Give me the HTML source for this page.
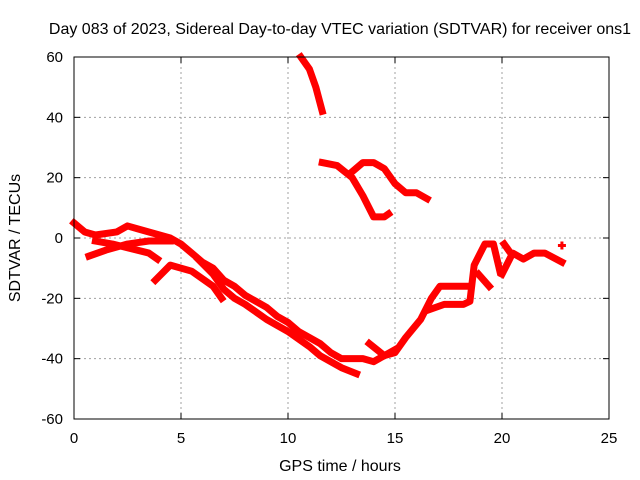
<!DOCTYPE html>
<html><head><meta charset="utf-8"><style>
body{margin:0;background:#fff}
svg{display:block;font-family:"Liberation Sans",sans-serif}
</style></head><body>
<svg id="chart" width="640" height="480">
<text x="340" y="34" font-size="16" text-anchor="middle">Day 083 of 2023, Sidereal Day-to-day VTEC variation (SDTVAR) for receiver ons1</text>
<text x="340" y="471" font-size="16" text-anchor="middle">GPS time / hours</text>
<text transform="translate(20,238) rotate(-90)" font-size="16" text-anchor="middle">SDTVAR / TECUs</text>
<g id="grid"></g><g id="series"></g><g id="axes"></g>
</svg>
<script>
const xTicks=[0,5,10,15,20,25];
const yTicks=[-60,-40,-20,0,20,40,60];
const traceA=[[0,5],[0.5,2],[1,1],[2,2],[2.5,4],[3,3],[3.5,2],[4,1],[4.5,0],[5,-2],[5.5,-5],[6,-8],[6.5,-10],[7,-14],[7.5,-16],[8,-19],[8.5,-21],[9,-23],[9.5,-26],[10,-28],[10.5,-31],[11,-33],[11.5,-35],[12,-38],[12.5,-40],[13,-40],[13.5,-40],[14,-41],[14.5,-39],[15,-37]];
const traceB=[[0.7,-6],[1.5,-4],[2.5,-2],[3.5,-1],[4.5,-1]];
const traceB2=[[1,-1],[1.8,-2],[3.5,-5],[3.9,-7]];
const traceC=[[3.8,-14],[4.5,-9],[5.5,-11],[6.5,-16],[6.9,-20]];
const traceD=[[5.8,-7],[6.5,-12],[7,-17],[7.5,-20],[8,-22],[9,-27],[10,-31],[11,-36],[11.5,-39],[12.5,-43],[13.2,-45]];
const traceE=[[13.8,-35],[14.5,-39],[15,-38],[15.5,-33],[16.2,-27],[16.7,-20],[17.1,-16],[18,-16],[18.5,-16]];
const traceE2=[[16.5,-24],[17.3,-22],[18.2,-22],[18.5,-21],[18.7,-9],[19.2,-2],[19.6,-2],[19.9,-11]];
const traceE3=[[18.9,-12],[19.4,-16]];
const traceF=[[20,-12],[20.5,-5],[21,-7],[21.5,-5],[22,-5],[22.8,-8]];
const traceF2=[[20.1,-2],[20.3,-4]];
const traceG=[[10.6,60],[11,56],[11.3,50],[11.6,42]];
const traceH=[[11.6,25],[12.3,24],[13,20],[13.5,14],[14,7],[14.5,7],[14.7,8]];
const traceI=[[13,22],[13.5,25],[14,25],[14.5,23],[15,18],[15.5,15],[16,15],[16.5,13]];
const singlePoints=[[22.8,-2.5]];
const traces=[traceA,traceB,traceB2,traceC,traceD,traceE,traceE2,traceE3,traceF,traceF2,traceG,traceH,traceI];
const X0=74,X1=609,Y0=419,Y1=57;
const sx=v=>X0+(v-0)/(25-0)*(X1-X0);
const sy=v=>Y0-(v+60)/120*(Y0-Y1);
const NS="http://www.w3.org/2000/svg";
function mk(t,a,p){const e=document.createElementNS(NS,t);for(const k in a)e.setAttribute(k,a[k]);p.appendChild(e);return e;}
const grid=document.getElementById('grid'),axes=document.getElementById('axes'),ser=document.getElementById('series');
xTicks.forEach(t=>{const x=sx(t);
 if(t>0&&t<25){const g=mk('line',{x1:x,x2:x,y1:Y1,y2:Y0,stroke:'#a0a0a0','stroke-dasharray':'2,3'},grid);
 }
 mk('line',{x1:x,x2:x,y1:Y0,y2:Y0-6,stroke:'#000'},axes);mk('line',{x1:x,x2:x,y1:Y1,y2:Y1+6,stroke:'#000'},axes);
 const l=mk('text',{x:x,y:Y0+24,'font-size':15,'text-anchor':'middle'},axes);l.textContent=t;
 });
yTicks.forEach(t=>{const y=sy(t);
 if(t>-60&&t<60){const g=mk('line',{x1:X0,x2:X1,y1:y,y2:y,stroke:'#a0a0a0','stroke-dasharray':'2,3'},grid);
 }
 mk('line',{x1:X0,x2:X0+6,y1:y,y2:y,stroke:'#000'},axes);mk('line',{x1:X1,x2:X1-6,y1:y,y2:y,stroke:'#000'},axes);
 const l=mk('text',{x:X0-11,y:y+5,'font-size':15,'text-anchor':'end'},axes);l.textContent=t;
 });
const fr=mk('rect',{x:X0,y:Y1,width:X1-X0,height:Y0-Y1,fill:'none',stroke:'#000'},axes);

traces.forEach(tr=>{const p=mk('polyline',{points:tr.map(d=>sx(d[0])+','+sy(d[1])).join(' '),fill:'none',stroke:'#ff0000','stroke-width':7,'stroke-linejoin':'round','stroke-linecap':'square'},ser);
 });
singlePoints.forEach(d=>{const p=mk('path',{d:`M${sx(d[0])-4},${sy(d[1])}h8M${sx(d[0])},${sy(d[1])-4}v8`,stroke:'#ff0000','stroke-width':3},ser);
 });
</script>
</body></html>
